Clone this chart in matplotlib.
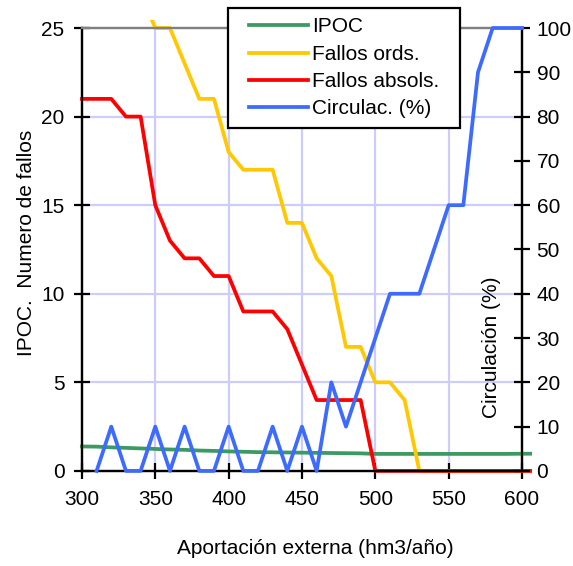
import matplotlib
matplotlib.use("Agg")
import matplotlib.pyplot as plt
import numpy as np
from matplotlib.patches import Rectangle
from matplotlib.legend_handler import HandlerLine2D

plt.rcParams['font.family'] = ['Liberation Sans', 'DejaVu Sans']

# ---- data ----
x_main = [300, 310, 320, 330, 340, 350, 360, 370, 380, 390, 400, 410, 420, 430, 440,
          450, 460, 470, 480, 490, 500, 510, 520, 530, 540, 550, 560, 570, 580, 590, 600, 606]
ipoc = [1.38, 1.37, 1.33, 1.30, 1.27, 1.24, 1.21, 1.19, 1.15, 1.13, 1.10, 1.08, 1.06, 1.05, 1.04,
        1.03, 1.02, 1.01, 1.00, 0.99, 0.96, 0.96, 0.96, 0.96, 0.96, 0.96, 0.96, 0.96, 0.96, 0.96, 0.97, 0.97]
fallos_ords = [None, None, None, None, 27, 25, 25, 23, 21, 21, 18, 17, 17, 17, 14,
               14, 12, 11, 7, 7, 5, 5, 4, 0, 0, 0, 0, 0, 0, 0, 0, 0]
fallos_abs = [21, 21, 21, 20, 20, 15, 13, 12, 12, 11, 11, 9, 9, 9, 8,
              6, 4, 4, 4, 4, 0, 0, 0, 0, 0, 0, 0, 0, 0, 0, 0, 0]
x_circ = [310, 320, 330, 340, 350, 360, 370, 380, 390, 400, 410, 420, 430, 440, 450,
          460, 470, 480, 490, 500, 510, 520, 530, 540, 550, 560, 570, 580, 590, 600]
circulac = [0, 10, 0, 0, 10, 0, 10, 0, 0, 10, 0, 0, 10, 0, 10,
            0, 20, 10, 20, 30, 40, 40, 40, 50, 60, 60, 90, 100, 100, 100]

labels = ['IPOC', 'Fallos ords.', 'Fallos absols.', 'Circulac. (%)']
colors = ['#3a9a62', '#ffc800', '#ff0000', '#3d6bff']
xticks = [300, 350, 400, 450, 500, 550, 600]
yticks_left = [0, 5, 10, 15, 20, 25]
yticks_right = list(range(0, 101, 10))

fs = 15
fig = plt.figure(figsize=(5.73, 5.66), dpi=100)
ax = fig.add_axes([0.143, 0.168, 0.768, 0.7825])
ax2 = ax.twinx()

ax.set_xlim(300, 600)
ax.set_ylim(0, 25)
ax2.set_ylim(0, 100)

# grid
ax.set_xticks(xticks)
ax.set_yticks(yticks_left)
for xv in xticks[1:-1]:
    ax.axvline(xv, color='#ccccff', lw=1.6, zorder=0.5)
for yv in yticks_left[1:-1]:
    ax.axhline(yv, color='#ccccff', lw=1.6, zorder=0.5)

lw = 2.7
fo = np.array([np.nan if v is None else v for v in fallos_ords], dtype=float)
l1, = ax.plot(x_main, ipoc, color=colors[0], lw=lw, zorder=3)
l2, = ax.plot(x_main, fo, color=colors[1], lw=lw, zorder=3.1)
l3, = ax.plot(x_main, fallos_abs, color=colors[2], lw=lw, zorder=3.2)
l4, = ax2.plot(x_circ, circulac, color=colors[3], lw=lw, zorder=3)

for l in (l1, l2, l3):
    l.set_clip_path(Rectangle((296, -2), 311, 27.45, transform=ax.transData))
l4.set_clip_path(Rectangle((296, -5), 311, 108, transform=ax2.transData))

for a in (ax, ax2):
    for s in ('left', 'right', 'bottom'):
        a.spines[s].set_color('black')
        a.spines[s].set_linewidth(1.6)
    a.spines['top'].set_color('#808080')
    a.spines['top'].set_linewidth(1.6)
    a.tick_params(direction='inout', length=11, width=1.6, labelsize=fs)

ax.tick_params(axis='y', pad=7)
ax.tick_params(axis='x', pad=8)
ax2.set_yticks(yticks_right)
ax2.tick_params(axis='y', pad=5)

ax.set_xlabel('Aportación externa (hm3/año)', fontsize=fs)
ax.xaxis.set_label_coords(0.53, -0.175)
ax.xaxis.label.set_va('center')
ax.set_ylabel('IPOC.  Numero de fallos', fontsize=fs)
ax.yaxis.set_label_coords(-0.125, 0.515)
ax.yaxis.label.set_va('center')

ax2.text(0.93, 0.28, 'Circulación (%)', transform=ax2.transAxes, rotation=90,
         ha='center', va='center', fontsize=fs)

hmap = {l: HandlerLine2D(xpad=0.55) for l in (l1, l2, l3, l4)}
leg = ax2.legend([l1, l2, l3, l4], labels, loc='upper left',
                 bbox_to_anchor=(0.332, 0.774, 0.527, 0.271), mode='expand',
                 borderaxespad=0, borderpad=0.45, fontsize=fs, handlelength=3.4,
                 handletextpad=0.2, labelspacing=0.4, fancybox=False,
                 framealpha=1, edgecolor='black', handler_map=hmap)
leg.get_frame().set_linewidth(1.6)
leg.set_zorder(10)

fig.savefig('out.png', dpi=100)
